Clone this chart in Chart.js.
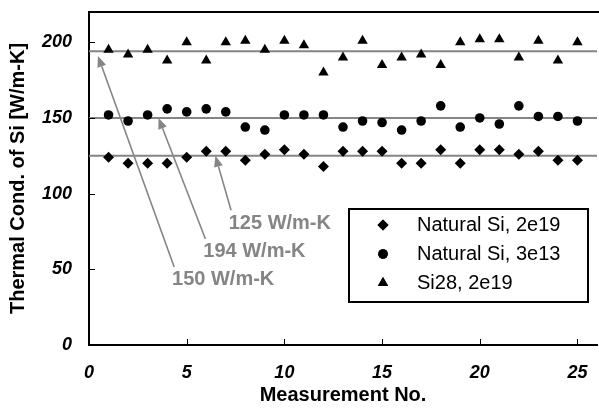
<!DOCTYPE html>
<html>
<head>
<meta charset="utf-8">
<script src="https://cdn.jsdelivr.net/npm/chart.js@4.4.0/dist/chart.umd.min.js"></script>
<style>
  html, body { margin: 0; padding: 0; background: #fff; overflow: hidden; }
  #wrap { width: 603px; height: 409px; }
</style>
</head>
<body>
<div id="wrap"><canvas id="thermalChart" width="603" height="409"></canvas></div>
<script>
// measurement numbers and the three sample series
var measurementNo = [1,2,3,4,5,6,7,8,9,10,11,12,13,14,15,16,17,18,19,20,21,22,23,24,25];
var natural2e19 = [124,120,120,120,124,128,128,122,126,129,126,118,128,128,128,120,120,129,120,129,129,126,128,122,122];
var natural3e13 = [152,148,152,156,154,156,154,144,142,152,152,152,144,148,147,142,148,158,144,150,146,158,151,151,148];
var si28_2e19   = [195,192,195,188,200,188,200,201,195,201,198,180,190,201,185,190,192,185,200,202,202,190,201,188,200];

var seriesNames = ["Natural Si, 2e19", "Natural Si, 3e13", "Si28, 2e19"];

// average lines (W/m-K)
var averages = [125, 150, 194];

// callouts: text, label position (x, y) and arrow tip (x, y), all in data units
var calloutText  = ["125 W/m-K", "194 W/m-K", "150 W/m-K"];
var calloutLabel = [[7.15, 80.5], [5.85, 62], [4.25, 43.5]];
var calloutFrom  = [[7.27, 89], [5.96, 70], [4.36, 51.5]];
var calloutTip   = [[6.47, 125], [3.56, 150], [0.46, 191]];

var xTicks = [0, 5, 10, 15, 20, 25];
var yTicks = [0, 50, 100, 150, 200];

var FONT = "'Liberation Sans', Arial, sans-serif";
var GREY = "#858585";

function toPoints(ys) {
  return ys.map(function(y, i){ return {x: measurementNo[i], y: y}; });
}

var datasets = [];
averages.forEach(function(v){
  datasets.push({
    type: 'line',
    data: [{x: 0, y: v}, {x: 26, y: v}],
    borderColor: GREY,
    borderWidth: 2,
    pointRadius: 0,
    order: 5
  });
});
datasets.push({ label: seriesNames[0], data: toPoints(natural2e19), pointStyle: 'rectRot', pointRadius: 5.5, backgroundColor: '#000', borderColor: '#000', borderWidth: 0, order: 1 });
datasets.push({ label: seriesNames[1], data: toPoints(natural3e13), pointStyle: 'circle', pointRadius: 4.8, backgroundColor: '#000', borderColor: '#000', borderWidth: 0, order: 1 });
datasets.push({ label: seriesNames[2], data: toPoints(si28_2e19), pointStyle: 'triangle', pointRadius: 6, backgroundColor: '#000', borderColor: '#000', borderWidth: 0, order: 1 });

// frame top line, inward tick marks, callouts and legend box
var extras = {
  id: 'extras',
  afterDatasetsDraw: function(chart) {
    var ctx = chart.ctx, a = chart.chartArea;
    var xs = chart.scales.x, ys = chart.scales.y;
    ctx.save();

    ctx.strokeStyle = '#000';
    ctx.lineWidth = 2;
    ctx.beginPath();
    ctx.moveTo(a.left - 1, a.top);
    ctx.lineTo(a.right + 2, a.top);
    ctx.stroke();

    ctx.lineWidth = 1;
    xTicks.forEach(function(v){
      var px = Math.round(xs.getPixelForValue(v)) + 0.5;
      ctx.beginPath(); ctx.moveTo(px, a.bottom); ctx.lineTo(px, a.bottom - 6); ctx.stroke();
    });
    yTicks.forEach(function(v){
      var py = Math.round(ys.getPixelForValue(v)) + 0.5;
      ctx.beginPath(); ctx.moveTo(a.left, py); ctx.lineTo(a.left + 6, py); ctx.stroke();
    });

    // callout arrows
    ctx.strokeStyle = GREY;
    ctx.fillStyle = GREY;
    ctx.lineWidth = 1.6;
    for (var i = 0; i < calloutText.length; i++) {
      var x1 = xs.getPixelForValue(calloutFrom[i][0]), y1 = ys.getPixelForValue(calloutFrom[i][1]);
      var x2 = xs.getPixelForValue(calloutTip[i][0]), y2 = ys.getPixelForValue(calloutTip[i][1]);
      var ang = Math.atan2(y2 - y1, x2 - x1);
      var len = 11, half = 4.5;
      var bx = x2 - Math.cos(ang) * len, by = y2 - Math.sin(ang) * len;
      ctx.beginPath(); ctx.moveTo(x1, y1); ctx.lineTo(bx, by); ctx.stroke();
      ctx.beginPath();
      ctx.moveTo(x2, y2);
      ctx.lineTo(bx + Math.sin(ang) * half, by - Math.cos(ang) * half);
      ctx.lineTo(bx - Math.sin(ang) * half, by + Math.cos(ang) * half);
      ctx.closePath(); ctx.fill();

      ctx.font = 'bold 20px ' + FONT;
      ctx.textAlign = 'left';
      ctx.textBaseline = 'middle';
      ctx.fillText(calloutText[i], xs.getPixelForValue(calloutLabel[i][0]), ys.getPixelForValue(calloutLabel[i][1]));
    }

    // legend
    var lx = 349, ly = 209, lw = 239, lh = 93;
    ctx.fillStyle = '#fff';
    ctx.fillRect(lx, ly, lw, lh);
    ctx.strokeStyle = '#000';
    ctx.lineWidth = 2;
    ctx.strokeRect(lx, ly, lw, lh);
    var styles = ['rectRot', 'circle', 'triangle'];
    var radii = [5.5, 4.8, 6];
    ctx.font = '20px ' + FONT;
    ctx.textBaseline = 'middle';
    for (var k = 0; k < seriesNames.length; k++) {
      var rowY = ly + 16 + k * 29;
      ctx.fillStyle = '#000';
      Chart.helpers.drawPoint(ctx, { pointStyle: styles[k], radius: radii[k], borderWidth: 0 }, 383, rowY);
      ctx.fill();
      ctx.fillText(seriesNames[k], 417, rowY);
    }
    ctx.restore();
  }
};

var ctx = document.getElementById('thermalChart');
var thermalChart = new Chart(ctx, {
  type: 'scatter',
  data: { datasets: datasets },
  options: {
    responsive: false,
    animation: false,
    devicePixelRatio: 1,
    layout: { padding: { top: 12, right: 1, left: 0, bottom: 0 } },
    plugins: { legend: { display: false }, tooltip: { enabled: false } },
    scales: {
      x: {
        type: 'linear',
        min: 0, max: 26,
        afterBuildTicks: function(scale){ scale.ticks = xTicks.map(function(v){ return {value: v}; }); },
        afterFit: function(scale){ scale.height = 64; scale.paddingLeft = 0; scale.paddingRight = 0; },
        grid: { display: false, drawTicks: false },
        border: { display: true, color: '#000', width: 2 },
        ticks: { color: '#000', padding: 17, maxRotation: 0, font: { family: FONT, size: 18, style: 'italic', weight: 'bold' } },
        title: { display: true, text: 'Measurement No.', color: '#000', padding: { top: 0, bottom: 2 }, font: { family: FONT, size: 20, weight: 'bold' } }
      },
      y: {
        type: 'linear',
        min: 0, max: 220,
        afterBuildTicks: function(scale){ scale.ticks = yTicks.map(function(v){ return {value: v}; }); },
        afterFit: function(scale){ scale.width = 89; scale.paddingTop = 0; scale.paddingBottom = 0; },
        grid: { display: false, drawTicks: false },
        border: { display: true, color: '#000', width: 2 },
        ticks: { color: '#000', padding: 17, font: { family: FONT, size: 18, style: 'italic', weight: 'bold' } },
        title: { display: true, text: 'Thermal Cond. of Si [W/m-K]', color: '#000', padding: { top: 6, bottom: 0 }, font: { family: FONT, size: 20, weight: 'bold' } }
      }
    }
  },
  plugins: [extras]
});
</script>
</body>
</html>
